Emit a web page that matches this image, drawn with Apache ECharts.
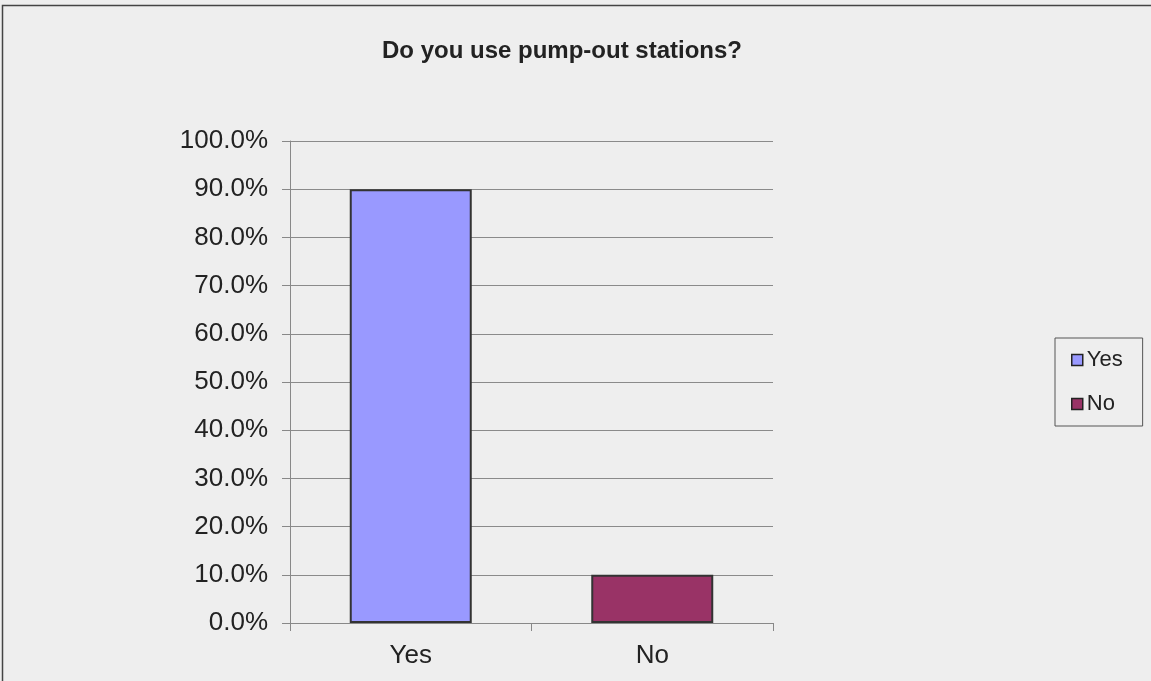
<!DOCTYPE html>
<html>
<head>
<meta charset="utf-8">
<style>
  html, body { margin: 0; padding: 0; background: #eeeeee; }
  #chart { width: 1151px; height: 681px; }
</style>
<script src="https://cdn.jsdelivr.net/npm/echarts@6/dist/echarts.min.js"></script>
</head>
<body>
<div id="chart"></div>
<script>
const categories = ['Yes', 'No'];
const seriesNames = ['Yes', 'No'];
const values = [90.0, 10.0];
const colors = ['#9999ff', '#993366'];
const yTicks = [0, 10, 20, 30, 40, 50, 60, 70, 80, 90, 100];

const chart = echarts.init(document.getElementById('chart'), null, { renderer: 'canvas' });

// one series per answer so each gets its own legend entry; they share a slot via barGap
const series = seriesNames.map((name, i) => ({
  name: name,
  type: 'bar',
  barWidth: 122,
  barGap: '-100%',
  data: categories.map((c, j) => (j === i ? values[i] : null)),
  itemStyle: { color: colors[i], borderColor: '#333333', borderWidth: 2 }
}));

chart.setOption({
  backgroundColor: '#eeeeee',
  animation: false,
  textStyle: { fontFamily: 'Liberation Sans, Arial, sans-serif' },
  title: {
    text: 'Do you use pump-out stations?',
    left: 557,
    textAlign: 'center',
    top: 34,
    textStyle: { fontSize: 24, fontWeight: 'bold', color: '#222222' }
  },
  legend: {
    orient: 'vertical',
    left: 1055,
    top: 338,
    padding: [11, 20, 11, 16],
    itemGap: 22,
    itemWidth: 11,
    itemHeight: 11,
    borderColor: '#555555',
    borderWidth: 1,
    backgroundColor: '#eeeeee',
    icon: 'rect',
    data: seriesNames,
    itemStyle: { borderColor: '#222222', borderWidth: 1.5 },
    textStyle: { fontSize: 22, color: '#222222', padding: [0, 0, 0, -1] }
  },
  grid: { left: 290, right: 1151 - 773, top: 141, bottom: 681 - 623, containLabel: false },
  xAxis: {
    type: 'category',
    data: categories,
    axisLine: { lineStyle: { color: '#888888', width: 1 } },
    axisTick: { show: true, length: 8, lineStyle: { color: '#888888' } },
    axisLabel: { fontSize: 26, color: '#222222', margin: 20 }
  },
  yAxis: {
    type: 'value',
    min: 0,
    max: 100,
    interval: 10,
    axisLine: { show: true, lineStyle: { color: '#888888', width: 1 } },
    axisTick: { show: true, length: 8, lineStyle: { color: '#888888' } },
    splitLine: { show: true, lineStyle: { color: '#8a8a8a', width: 1 } },
    axisLabel: {
      fontSize: 26,
      color: '#222222',
      margin: 22,
      formatter: v => (yTicks.includes(v) ? v.toFixed(1) + '%' : '')
    }
  },
  graphic: [{
    type: 'rect',
    shape: { x: 2.5, y: 5.5, width: 1200, height: 700 },
    style: { fill: 'none', stroke: '#444444', lineWidth: 1.5 },
    silent: true
  }],
  series: series
});
</script>
</body>
</html>
